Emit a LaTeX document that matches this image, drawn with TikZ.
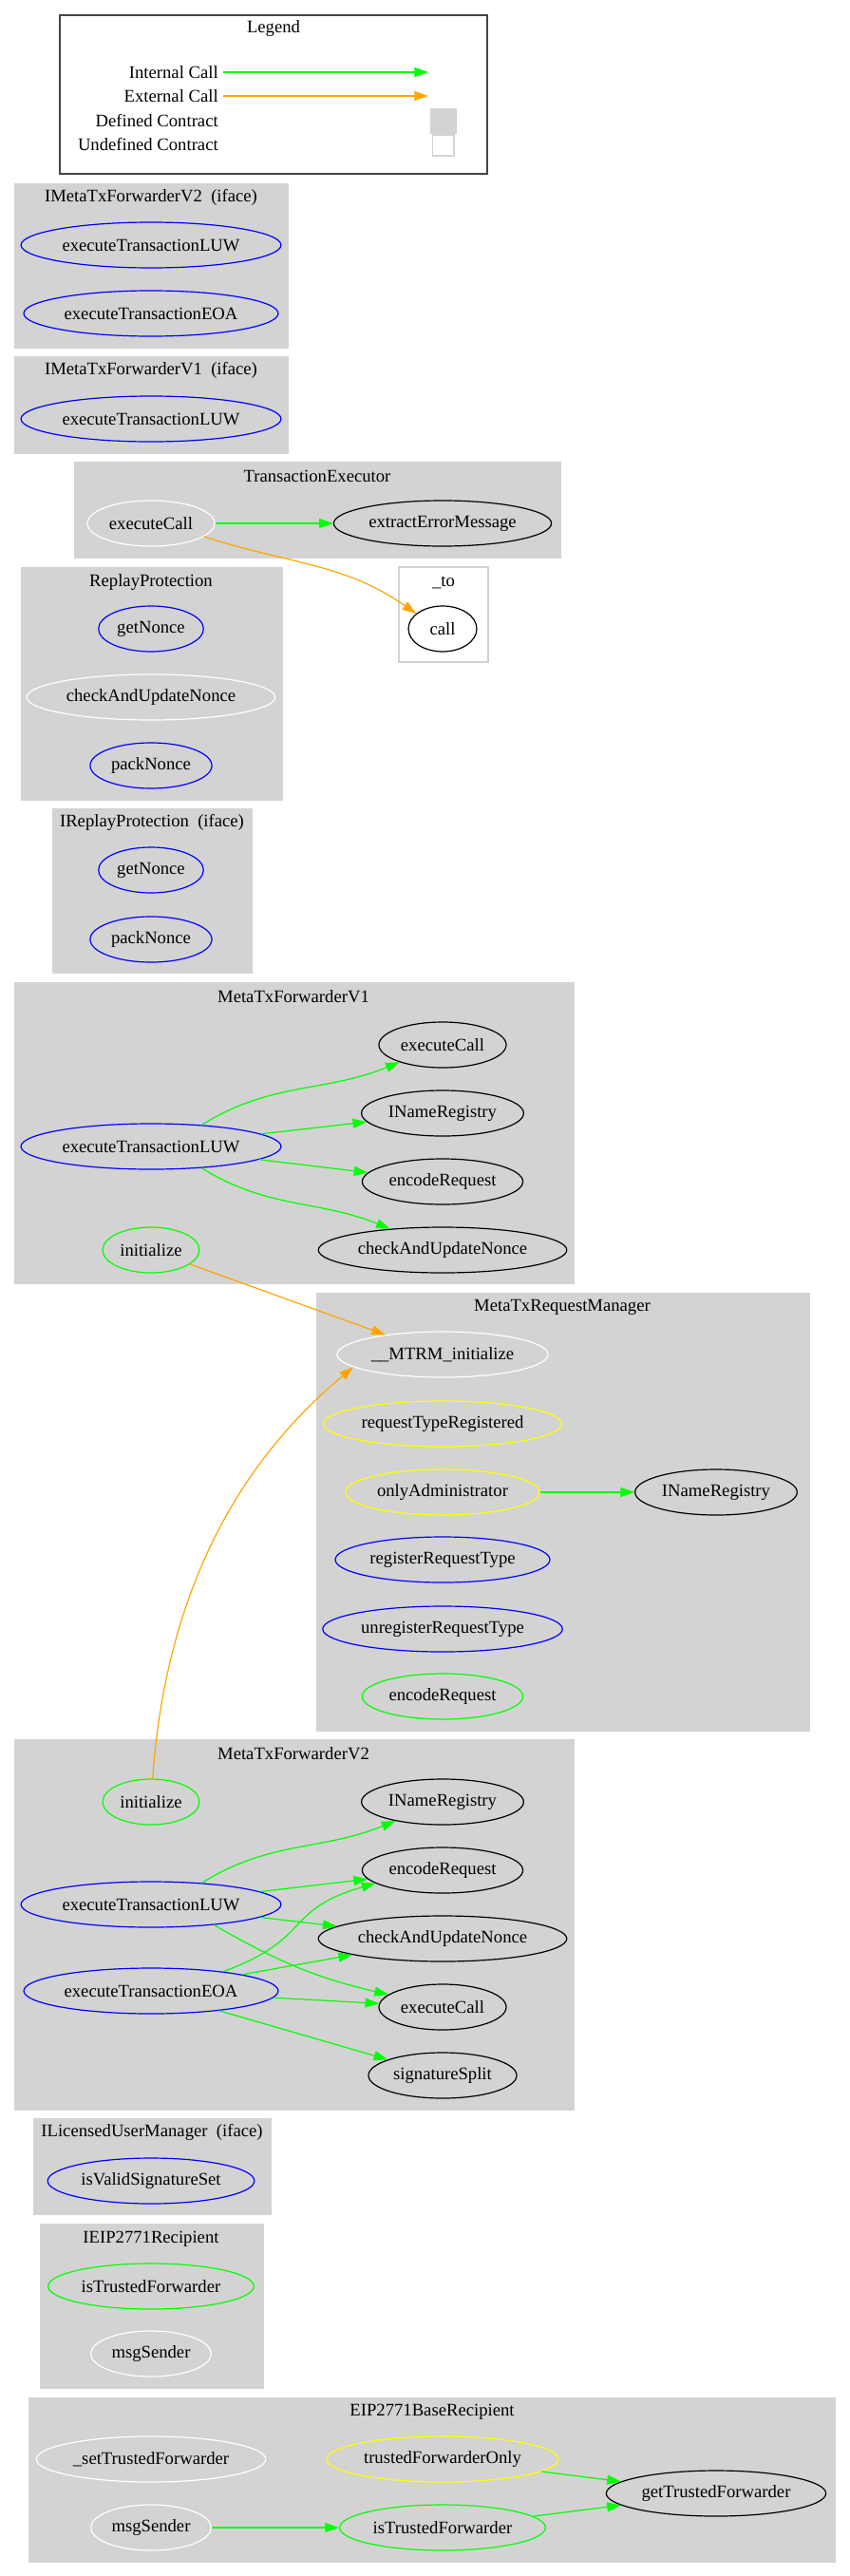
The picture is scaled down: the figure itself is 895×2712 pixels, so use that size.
\documentclass[tikz,border=0pt]{standalone}
\usepackage{fontspec}
\setmainfont{Liberation Serif}
\usepackage{tikz}
\usetikzlibrary{shapes.geometric, arrows.meta, backgrounds}
\definecolor{boxgray}{HTML}{D3D3D3}
\definecolor{fnblue}{HTML}{0000FF}
\definecolor{fngreen}{HTML}{00FF00}
\definecolor{fnyellow}{HTML}{FFFF00}
\definecolor{extorange}{HTML}{FFA500}
\definecolor{leggray}{HTML}{444444}

\tikzset{
  lbl/.style={font=\fontsize{14pt}{16pt}\selectfont},
  fn/.style={lbl, ellipse, draw, line width=0.9pt, minimum width=54pt,
             minimum height=36pt, inner xsep=2.5pt, inner ysep=0pt},
  pubfn/.style={fn, draw=fnblue},
  intfn/.style={fn, draw=fngreen},
  modfn/.style={fn, draw=fnyellow},
  privfn/.style={fn, draw=white},
  extfn/.style={fn, draw=black},
  box/.style={fill=boxgray, draw=boxgray},
  boxtitle/.style={lbl, inner sep=0pt},
  legtext/.style={lbl, anchor=east, inner xsep=3.75pt, inner ysep=0pt},
  intcall/.style={draw=fngreen, line width=0.9pt, -{Triangle[length=11pt,width=7.5pt]}},
  extcall/.style={draw=extorange, line width=0.9pt, -{Triangle[length=11pt,width=7.5pt]}},
}

\begin{document}
\begin{tikzpicture}[x=0.75pt, y=-0.75pt]
\useasboundingbox (0,0) rectangle (895,2712);

% legend
\draw[leggray, line width=1pt] (63,16) rectangle (513,183);
\node[boxtitle] (legtitle) at (288,30) {Legend};
\node[legtext] (legint) at (235,76) {Internal Call};
\node[legtext] (legext) at (235,101) {External Call};
\node[legtext] (legdef) at (235,127) {Defined Contract};
\node[legtext] (legundef) at (235,152) {Undefined Contract};
\coordinate (intend) at (451,76);
\coordinate (extend) at (451,101);
\draw[intcall] (legint) -- (intend);
\draw[extcall] (legext) -- (extend);
\node[box, minimum width=20pt, minimum height=19.5pt, inner sep=0pt] (defsq) at (466.5,127) {};
\node[draw=boxgray, line width=1pt, minimum width=17pt, minimum height=16.5pt, inner sep=0pt] (undefsq) at (466.5,153) {};

% clusters
\draw[box] (15,193) rectangle (303,366);
\draw[box] (15,375) rectangle (303,477);
\draw[box] (78,486) rectangle (590,587);
\draw[boxgray, line width=1pt] (420,597) rectangle (514,697);
\draw[box] (22,597) rectangle (297,842);
\draw[box] (55,851) rectangle (265,1024);
\draw[box] (15,1034) rectangle (604,1351);
\draw[box] (333,1361) rectangle (852,1822);
\draw[box] (15,1831) rectangle (604,2221);
\draw[box] (35,2230) rectangle (285,2331);
\draw[box] (42,2341) rectangle (277,2514);
\draw[box] (30,2524) rectangle (879,2697);

% IMetaTxForwarderV2
\node[boxtitle] (t1) at (159,208) {IMetaTxForwarderV2\ \ (iface)};
\node[pubfn] (iv2luw) at (159,258) {executeTransactionLUW};
\node[pubfn] (iv2eoa) at (159,330) {executeTransactionEOA};

% IMetaTxForwarderV1
\node[boxtitle] (t2) at (159,390) {IMetaTxForwarderV1\ \ (iface)};
\node[pubfn] (iv1luw) at (159,441) {executeTransactionLUW};

% TransactionExecutor
\node[boxtitle] (t3) at (334,501) {TransactionExecutor};
\node[privfn] (txexec) at (159,551) {executeCall};
\node[extfn] (txerr) at (466,551) {extractErrorMessage};

% _to
\node[boxtitle] (t4) at (467,613) {\_to};
\node[extfn] (tocall) at (466,662) {call};

% ReplayProtection
\node[boxtitle] (t5) at (159,613) {ReplayProtection};
\node[pubfn] (rpget) at (159,662) {getNonce};
\node[privfn] (rpcheck) at (159,734) {checkAndUpdateNonce};
\node[pubfn] (rppack) at (159,806) {packNonce};

% IReplayProtection
\node[boxtitle] (t6) at (160,866) {IReplayProtection\ \ (iface)};
\node[pubfn] (irpget) at (159,916) {getNonce};
\node[pubfn] (irppack) at (159,989) {packNonce};

% MetaTxForwarderV1
\node[boxtitle] (t7) at (309,1049) {MetaTxForwarderV1};
\node[extfn] (v1exec) at (466,1100) {executeCall};
\node[extfn] (v1reg) at (466,1172) {INameRegistry};
\node[extfn] (v1enc) at (466,1244) {encodeRequest};
\node[extfn] (v1check) at (466,1316) {checkAndUpdateNonce};
\node[pubfn] (v1luw) at (159,1207) {executeTransactionLUW};
\node[intfn] (v1init) at (159,1316) {initialize};

% MetaTxRequestManager
\node[boxtitle] (t8) at (592,1376) {MetaTxRequestManager};
\node[privfn] (mrinit) at (466,1426) {\_\_MTRM\_initialize};
\node[modfn] (mrtype) at (466,1499) {requestTypeRegistered};
\node[modfn] (mradmin) at (466,1571) {onlyAdministrator};
\node[extfn] (mrreg) at (754,1571) {INameRegistry};
\node[pubfn] (mrregister) at (466,1642) {registerRequestType};
\node[pubfn] (mrunregister) at (466,1715) {unregisterRequestType};
\node[intfn] (mrenc) at (466,1786) {encodeRequest};

% MetaTxForwarderV2
\node[boxtitle] (t9) at (309,1846) {MetaTxForwarderV2};
\node[intfn] (v2init) at (159,1897) {initialize};
\node[extfn] (v2reg) at (466,1897) {INameRegistry};
\node[extfn] (v2enc) at (466,1969) {encodeRequest};
\node[extfn] (v2check) at (466,2041) {checkAndUpdateNonce};
\node[extfn] (v2exec) at (466,2113) {executeCall};
\node[extfn] (v2split) at (466,2185) {signatureSplit};
\node[pubfn] (v2luw) at (159,2005) {executeTransactionLUW};
\node[pubfn] (v2eoa) at (159,2096) {executeTransactionEOA};

% ILicensedUserManager
\node[boxtitle] (t10) at (160,2245) {ILicensedUserManager\ \ (iface)};
\node[pubfn] (lumvalid) at (159,2296) {isValidSignatureSet};

% IEIP2771Recipient
\node[boxtitle] (t11) at (159,2357) {IEIP2771Recipient};
\node[intfn] (ietrusted) at (159,2407) {isTrustedForwarder};
\node[privfn] (iesender) at (159,2478) {msgSender};

% EIP2771BaseRecipient
\node[boxtitle] (t12) at (455,2539) {EIP2771BaseRecipient};
\node[privfn] (brset) at (159,2589) {\_setTrustedForwarder};
\node[modfn] (bronly) at (466,2589) {trustedForwarderOnly};
\node[privfn] (brsender) at (159,2661) {msgSender};
\node[intfn] (brtrusted) at (466,2661) {isTrustedForwarder};
\node[extfn] (brget) at (754,2625) {getTrustedForwarder};

% calls
\draw[intcall] (txexec) -- (txerr);
\draw[extcall] (txexec.-14) to[out=-18, in=145] (tocall.150);

\draw[intcall] (v1luw.23) to[out=32, in=-158] (v1exec);
\draw[intcall] (v1luw) -- (v1reg);
\draw[intcall] (v1luw) -- (v1enc);
\draw[intcall] (v1luw.-23) to[out=-32, in=158] (v1check);
\draw[extcall] (v1init.-20) -- (mrinit.161);

\draw[intcall] (mradmin) -- (mrreg);

\draw[extcall] (v2init.86) to[out=86, in=-140, out distance=187pt, in distance=75pt] (mrinit.-172);
\draw[intcall] (v2luw.23) to[out=32, in=-158] (v2reg);
\draw[intcall] (v2luw) -- (v2enc);
\draw[intcall] (v2luw) -- (v2check);
\draw[intcall] (v2luw.-18) to[out=-30, in=167] (v2exec.167);
\draw[intcall] (v2eoa.15) to[out=20, in=-164, looseness=1.4] (v2enc.-169);
\draw[intcall] (v2eoa) -- (v2check);
\draw[intcall] (v2eoa) -- (v2exec);
\draw[intcall] (v2eoa) -- (v2split);

\draw[intcall] (bronly) -- (brget);
\draw[intcall] (brtrusted) -- (brget);
\draw[intcall] (brsender) -- (brtrusted);
\end{tikzpicture}
\end{document}
